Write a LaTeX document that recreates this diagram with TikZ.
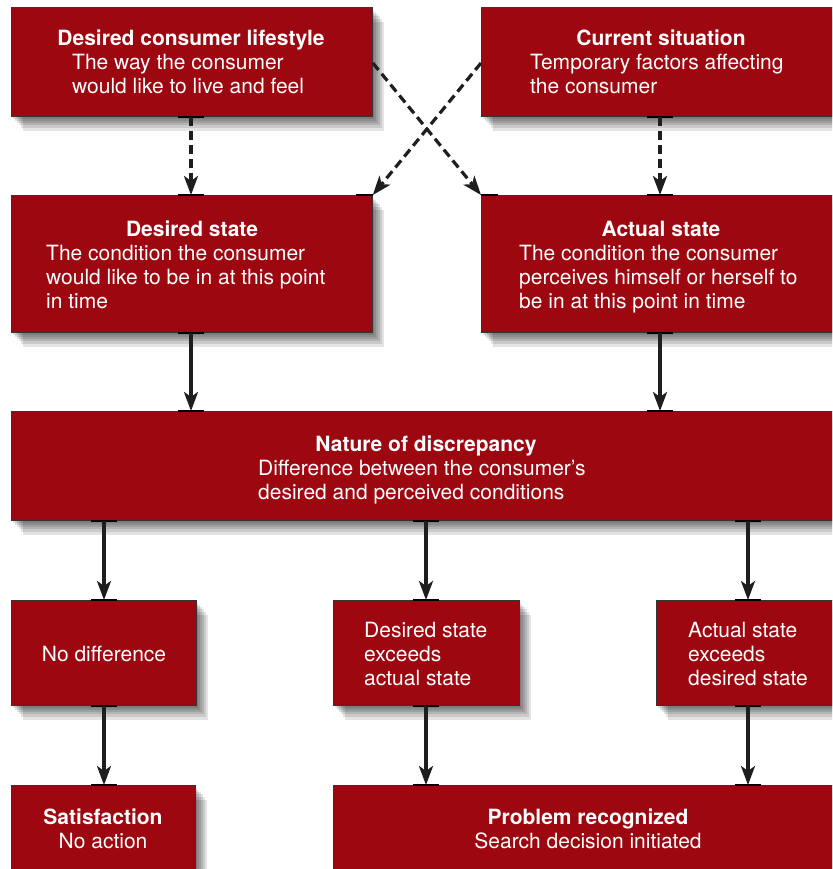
\documentclass[tikz,border=0pt]{standalone}
\usepackage{fontspec}
\setmainfont{TeX Gyre Heros}
\usetikzlibrary{arrows.meta,calc}
\definecolor{boxred}{RGB}{156,7,16}
\definecolor{linegray}{RGB}{30,30,30}
\tikzset{
  shl/.style 2 args={preaction={fill=black, fill opacity=0.11, draw=none, transform canvas={xshift=#1, yshift=#2}}},
  box/.style={draw=black!80, line width=0.8pt, fill=boxred, anchor=north west, inner sep=0pt,
    shl={2pt}{-3pt}, shl={4pt}{-5pt}, shl={6pt}{-7pt}, shl={8pt}{-9pt}, shl={10pt}{-12pt}, shl={12pt}{-15pt}},
  ttl/.style={text=white, font=\fontsize{21}{24}\selectfont\bfseries, anchor=base, inner sep=0pt},
  bdy/.style={text=white, font=\fontsize{21}{24}\selectfont, anchor=base west, inner sep=0pt},
  bdyc/.style={bdy, anchor=base},
  solidarrow/.style={draw=linegray, line width=3.2pt, -{Stealth[length=19pt,width=14pt,inset=5pt]}},
  dasharrow/.style={solidarrow, line width=3.2pt, dash pattern=on 9pt off 5pt},
  porttick/.style={draw=black, line width=2.2pt},
}
\newcommand\vlink[4]{%
  \draw[porttick] ([xshift=-13pt]#4 |- #2.south) -- ([xshift=13pt]#4 |- #2.south);
  \draw[porttick] ([xshift=-13pt]#4 |- #3.north) -- ([xshift=13pt]#4 |- #3.north);
  \draw[#1] (#4 |- #2.south) -- (#4 |- #3.north);}
\begin{document}
\begin{tikzpicture}[x=1pt,y=-1pt]
\clip (0,0) rectangle (832,869);
\fill[white] (0,0) rectangle (832,869);
% boxes
\node[box, minimum width=361pt, minimum height=109pt] (lif) at (11,7) {};
\node[box, minimum width=361pt, minimum height=109pt] (cur) at (481,7) {};
\node[box, minimum width=361pt, minimum height=137pt] (des) at (11,195) {};
\node[box, minimum width=361pt, minimum height=137pt] (act) at (481,195) {};
\node[box, minimum width=831pt, minimum height=109pt] (nat) at (11,411) {};
\node[box, minimum width=185pt, minimum height=105pt] (nod) at (11,600) {};
\node[box, minimum width=186pt, minimum height=105pt] (dex) at (333,600) {};
\node[box, minimum width=185pt, minimum height=105pt] (aex) at (656,600) {};
\node[box, minimum width=184pt, minimum height=110pt] (sat) at (11,785) {};
\node[box, minimum width=510pt, minimum height=110pt] (pro) at (333,785) {};
% texts
\node[ttl] (lift) at (191,46) {Desired consumer lifestyle};
\node[bdy] (lifb) at (72,70) {\begin{tabular}[t]{@{}l@{}}The way the consumer\\would like to live and feel\end{tabular}};
\node[ttl] (curt) at (661,46) {Current situation};
\node[bdy] (curb) at (530,70) {\begin{tabular}[t]{@{}l@{}}Temporary factors affecting\\the consumer\end{tabular}};
\node[ttl] (dest) at (192,236) {Desired state};
\node[bdy] (desb) at (46,260) {\begin{tabular}[t]{@{}l@{}}The condition the consumer\\would like to be in at this point\\in time\end{tabular}};
\node[ttl] (actt) at (661,236) {Actual state};
\node[bdy] (actb) at (519,260) {\begin{tabular}[t]{@{}l@{}}The condition the consumer\\perceives himself or herself to\\be in at this point in time\end{tabular}};
\node[ttl] (natt) at (426,451) {Nature of discrepancy};
\node[bdy] (natb) at (258,475) {\begin{tabular}[t]{@{}l@{}}Difference between the consumer’s\\desired and perceived conditions\end{tabular}};
\node[bdyc] (nodt) at (104,661) {No difference};
\node[bdy] (dext) at (364,637) {\begin{tabular}[t]{@{}l@{}}Desired state\\exceeds\\actual state\end{tabular}};
\node[bdy] (aext) at (688,637) {\begin{tabular}[t]{@{}l@{}}Actual state\\exceeds\\desired state\end{tabular}};
\node[ttl] (satt) at (103,824) {Satisfaction};
\node[bdyc] (satb) at (103,848) {No action};
\node[ttl] (prot) at (588,824) {Problem recognized};
\node[bdyc] (prob) at (588,848) {Search decision initiated};
% x positions of connectors
\coordinate (xa) at (191,0);
\coordinate (xb) at (660,0);
\coordinate (xc) at (104,0);
\coordinate (xd) at (426,0);
\coordinate (xe) at (748,0);
% connectors
\vlink{dasharrow}{lif}{des}{xa}
\vlink{dasharrow}{cur}{act}{xb}
\vlink{solidarrow}{des}{nat}{xa}
\vlink{solidarrow}{act}{nat}{xb}
\vlink{solidarrow}{nat}{nod}{xc}
\vlink{solidarrow}{nat}{dex}{xd}
\vlink{solidarrow}{nat}{aex}{xe}
\vlink{solidarrow}{nod}{sat}{xc}
\vlink{solidarrow}{dex}{pro}{xd}
\vlink{solidarrow}{aex}{pro}{xe}
\coordinate (lifout) at ($(lif.north east)+(0,56)$);
\coordinate (curout) at ($(cur.north west)+(0,56)$);
\draw[porttick] (act.north west) -- ++(17,0);
\draw[porttick] (des.north east) -- ++(-17,0);
\draw[dasharrow] (lifout) -- (act.north west);
\draw[dasharrow] (curout) -- (des.north east);
\end{tikzpicture}
\end{document}
